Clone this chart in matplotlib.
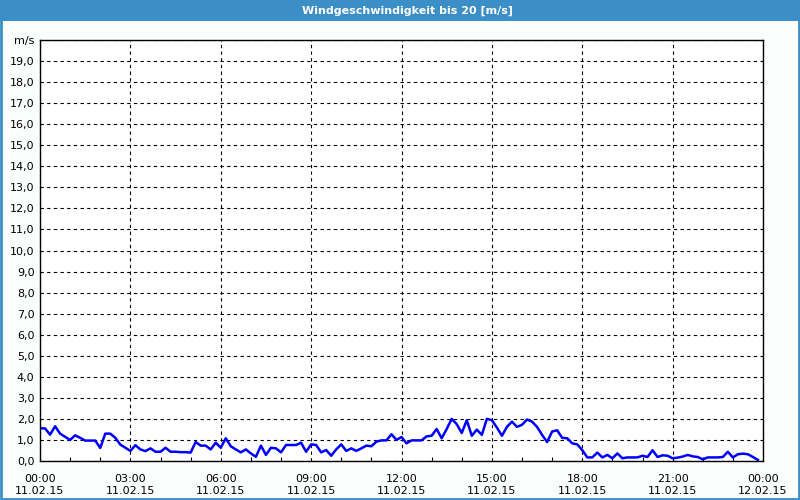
import matplotlib
matplotlib.use("Agg")
from matplotlib import pyplot as plt
from matplotlib.patches import Rectangle

# wind speed, one value every 10 minutes from 00:00 to 23:50
wind = [1.55, 1.55, 1.25, 1.65, 1.3, 1.15, 1.0, 1.22, 1.1, 0.97, 0.97, 0.97,
        0.62, 1.3, 1.3, 1.1, 0.78, 0.63, 0.48, 0.75, 0.55, 0.47, 0.6, 0.44,
        0.44, 0.63, 0.44, 0.44, 0.42, 0.42, 0.4, 0.9, 0.73, 0.73, 0.55, 0.87,
        0.63, 1.08, 0.7, 0.55, 0.41, 0.55, 0.36, 0.2, 0.73, 0.29, 0.63, 0.6,
        0.41, 0.76, 0.76, 0.76, 0.87, 0.44, 0.79, 0.76, 0.41, 0.52, 0.25, 0.55,
        0.79, 0.48, 0.6, 0.48, 0.6, 0.73, 0.7, 0.92, 0.98, 0.98, 1.27, 1.0,
        1.14, 0.84, 0.98, 0.98, 0.98, 1.17, 1.2, 1.52, 1.08, 1.52, 2.0, 1.75,
        1.33, 1.94, 1.2, 1.49, 1.24, 2.0, 1.94, 1.59, 1.2, 1.62, 1.87, 1.62,
        1.72, 1.97, 1.87, 1.62, 1.24, 0.9, 1.4, 1.46, 1.1, 1.08, 0.84, 0.79,
        0.52, 0.17, 0.17, 0.4, 0.17, 0.29, 0.13, 0.36, 0.13, 0.17, 0.17, 0.17,
        0.25, 0.19, 0.51, 0.19, 0.27, 0.25, 0.13, 0.16, 0.21, 0.29, 0.22, 0.19,
        0.08, 0.17, 0.17, 0.17, 0.19, 0.44, 0.17, 0.32, 0.35, 0.32, 0.19, 0.05]
hours = [i / 6 for i in range(len(wind))]

xticks = [0, 3, 6, 9, 12, 15, 18, 21, 24]
xlabels = ["00:00\n11.02.15", "03:00\n11.02.15", "06:00\n11.02.15",
           "09:00\n11.02.15", "12:00\n11.02.15", "15:00\n11.02.15",
           "18:00\n11.02.15", "21:00\n11.02.15", "00:00\n12.02.15"]
yticks = list(range(0, 21))
ylabels = ["%d,0" % v for v in range(0, 20)] + ["m/s"]

title = "Windgeschwindigkeit bis 20 [m/s]"
blue = "#3c8fc6"

plt.rcParams['font.family'] = ['DejaVu Sans']
fig = plt.figure(figsize=(8, 5), dpi=100, facecolor="#fcfefe")

# title bar and window frame
fig.patches.append(Rectangle((0, 1 - 21 / 500), 1, 21 / 500, transform=fig.transFigure,
                             facecolor=blue, edgecolor="none", zorder=0))
fig.patches.append(Rectangle((0.0012, 0.003), 0.9976, 0.96, transform=fig.transFigure,
                             facecolor="none", edgecolor=blue, linewidth=2, zorder=0))
fig.text(0.51, 1 - 10.5 / 500, title, color="white", fontsize=8, fontweight="bold",
         ha="center", va="center")

ax = fig.add_axes([40 / 800, 39 / 500, 723 / 800, 421 / 500])
ax.set_facecolor("white")
ax.plot(hours, wind, color="#0000ff", linewidth=1.8)

ax.set_xlim(0, 24)
ax.set_ylim(0, 20)
ax.set_xticks(xticks)
ax.set_xticklabels(xlabels, fontsize=8, linespacing=1.3)
ax.set_xticks(range(0, 25), minor=True)
ax.set_yticks(yticks)
ax.set_yticklabels(ylabels, fontsize=8)

ax.tick_params(axis="x", which="major", length=0, pad=9)
ax.tick_params(axis="x", which="minor", direction="in", length=3, width=0.8)
ax.tick_params(axis="y", length=0, pad=4)

ax.grid(True, which="major", color="black", linestyle=(0, (3, 3)), linewidth=0.8)
for s in ax.spines.values():
    s.set_linewidth(1)
    s.set_color("black")

fig.savefig("out.png", dpi=100, facecolor=fig.get_facecolor())
